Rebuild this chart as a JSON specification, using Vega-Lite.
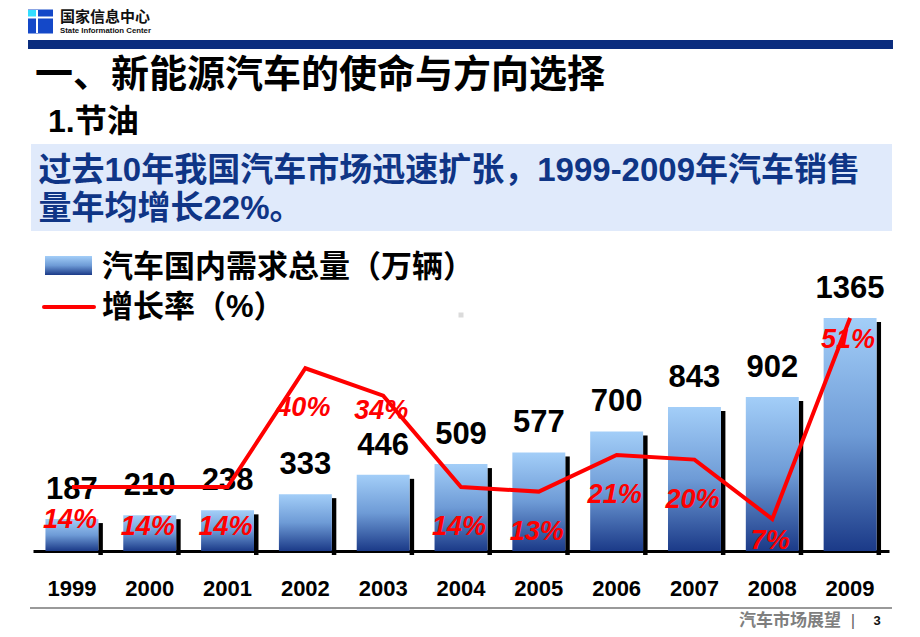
{
  "$schema": "https://vega.github.io/schema/vega-lite/v6.json",
  "width": 856,
  "height": 251,
  "autosize": "none",
  "padding": {"left": 33, "top": 300, "right": 31, "bottom": 86},
  "background": "white",
  "config": {"view": {"stroke": null}, "font": "Liberation Sans, Noto Sans CJK SC"},
  "data": {"values": [
    {"year": "1999", "sales": 187, "rate": 14, "rateText": "14%"},
    {"year": "2000", "sales": 210, "rate": 14, "rateText": "14%"},
    {"year": "2001", "sales": 238, "rate": 14, "rateText": "14%"},
    {"year": "2002", "sales": 333, "rate": 40, "rateText": "40%"},
    {"year": "2003", "sales": 446, "rate": 34, "rateText": "34%"},
    {"year": "2004", "sales": 509, "rate": 14, "rateText": "14%"},
    {"year": "2005", "sales": 577, "rate": 13, "rateText": "13%"},
    {"year": "2006", "sales": 700, "rate": 21, "rateText": "21%"},
    {"year": "2007", "sales": 843, "rate": 20, "rateText": "20%"},
    {"year": "2008", "sales": 902, "rate": 7, "rateText": "7%"},
    {"year": "2009", "sales": 1365, "rate": 51, "rateText": "51%"}
  ]},
  "layer": [
    {
      "layer": [
        {
          "mark": {"type": "bar", "width": 4.5, "xOffset": 28.7, "yOffset": 4, "color": "#000000"},
          "encoding": {
            "x": {"field": "year", "type": "nominal", "scale": {"domain": ["1999", "2000", "2001", "2002", "2003", "2004", "2005", "2006", "2007", "2008", "2009"], "paddingInner": 0.32, "paddingOuter": 0.16}, "axis": {"title": null, "labelFontSize": 22, "labelFontWeight": "bold", "labelColor": "#000000", "labelFont": "Liberation Sans", "ticks": false, "domainColor": "#000000", "domainWidth": 3, "labelPadding": 27, "labelAngle": 0, "grid": false}},
            "y": {"field": "sales", "type": "quantitative", "scale": {"domain": [0, 1470], "nice": false}, "axis": null}
          }
        },
        {
          "mark": {"type": "bar", "fill": {"gradient": "linear", "x1": 0, "y1": 0, "x2": 0, "y2": 1, "stops": [{"offset": 0, "color": "#A3CEF8"}, {"offset": 0.5, "color": "#6E9BD6"}, {"offset": 1, "color": "#1B3A88"}]}},
          "encoding": {
            "x": {"field": "year", "type": "nominal"},
            "y": {"field": "sales", "type": "quantitative"}
          }
        },
        {
          "mark": {"type": "text", "baseline": "alphabetic", "dy": -20, "fontSize": 31, "fontWeight": "bold", "font": "Liberation Sans", "color": "#000000"},
          "encoding": {
            "x": {"field": "year", "type": "nominal"},
            "y": {"field": "sales", "type": "quantitative"},
            "text": {"field": "sales"}
          }
        },
        {
          "data": {"values": [{}]},
          "mark": {"type": "rule", "strokeWidth": 24, "color": "#1448C8", "xOffset": -43.9, "x2Offset": -18.9, "strokeCap": "butt"},
          "encoding": {"x": {"datum": "1999", "type": "nominal"}, "x2": {"datum": "1999"}, "y": {"datum": 3101, "type": "quantitative"}}
        },
        {
          "data": {"values": [{}]},
          "mark": {"type": "rule", "strokeWidth": 7, "color": "#33DDFF", "xOffset": -43.9, "x2Offset": -35.9, "strokeCap": "butt"},
          "encoding": {"x": {"datum": "1999", "type": "nominal"}, "x2": {"datum": "1999"}, "y": {"datum": 3147.9, "type": "quantitative"}}
        },
        {
          "data": {"values": [{}]},
          "mark": {"type": "rule", "strokeWidth": 2, "color": "white", "xOffset": -34.9, "strokeCap": "butt"},
          "encoding": {"x": {"datum": "1999", "type": "nominal"}, "y": {"datum": 3168.4, "type": "quantitative"}, "y2": {"datum": 3033.7}}
        },
        {
          "data": {"values": [{}]},
          "mark": {"type": "rule", "strokeWidth": 2, "color": "white", "xOffset": -43.9, "x2Offset": -18.9, "strokeCap": "butt"},
          "encoding": {"x": {"datum": "1999", "type": "nominal"}, "x2": {"datum": "1999"}, "y": {"datum": 3124.5, "type": "quantitative"}}
        },
        {
          "data": {"values": [{}]},
          "mark": {"type": "text", "text": "国家信息中心", "align": "left", "baseline": "middle", "dx": -11.9, "fontSize": 15, "fontWeight": "bold", "font": "Noto Sans CJK SC", "color": "#111111"},
          "encoding": {"x": {"datum": "1999", "type": "nominal"}, "y": {"datum": 3127.4, "type": "quantitative"}}
        },
        {
          "data": {"values": [{}]},
          "mark": {"type": "text", "text": "State Information Center", "align": "left", "baseline": "middle", "dx": -11.9, "fontSize": 7.8, "fontWeight": "bold", "font": "Liberation Sans", "color": "#111111"},
          "encoding": {"x": {"datum": "1999", "type": "nominal"}, "y": {"datum": 3045.4, "type": "quantitative"}}
        },
        {
          "data": {"values": [{}]},
          "mark": {"type": "rule", "strokeWidth": 9, "color": "#0A2C7E", "xOffset": -43.9, "x2Offset": 42.9, "strokeCap": "butt"},
          "encoding": {"x": {"datum": "1999", "type": "nominal"}, "x2": {"datum": "2009"}, "y": {"datum": 2966.4, "type": "quantitative"}}
        },
        {
          "data": {"values": [{}]},
          "mark": {"type": "text", "text": "一、新能源汽车的使命与方向选择", "align": "left", "baseline": "middle", "dx": -36.9, "fontSize": 38, "fontWeight": "bold", "color": "#000000"},
          "encoding": {"x": {"datum": "1999", "type": "nominal"}, "y": {"datum": 2781.9, "type": "quantitative"}}
        },
        {
          "data": {"values": [{}]},
          "mark": {"type": "text", "text": "1.节油", "align": "left", "baseline": "middle", "dx": -23.9, "fontSize": 32, "fontWeight": "bold", "color": "#000000"},
          "encoding": {"x": {"datum": "1999", "type": "nominal"}, "y": {"datum": 2512.5, "type": "quantitative"}}
        },
        {
          "data": {"values": [{}]},
          "mark": {"type": "rule", "strokeWidth": 87, "color": "#E0EAFB", "xOffset": -40.9, "x2Offset": 41.9, "strokeCap": "butt"},
          "encoding": {"x": {"datum": "1999", "type": "nominal"}, "x2": {"datum": "2009"}, "y": {"datum": 2128.9, "type": "quantitative"}}
        },
        {
          "data": {"values": [{}]},
          "mark": {"type": "text", "text": "过去10年我国汽车市场迅速扩张，1999-2009年汽车销售", "align": "left", "baseline": "middle", "dx": -33.4, "fontSize": 33, "fontWeight": "bold", "color": "#0F3586"},
          "encoding": {"x": {"datum": "1999", "type": "nominal"}, "y": {"datum": 2225.5, "type": "quantitative"}}
        },
        {
          "data": {"values": [{}]},
          "mark": {"type": "text", "text": "量年均增长22%。", "align": "left", "baseline": "middle", "dx": -33.4, "fontSize": 33, "fontWeight": "bold", "color": "#0F3586"},
          "encoding": {"x": {"datum": "1999", "type": "nominal"}, "y": {"datum": 2002.9, "type": "quantitative"}}
        },
        {
          "data": {"values": [{}]},
          "mark": {"type": "bar", "width": 47, "xOffset": -3.4, "fill": {"gradient": "linear", "x1": 0, "y1": 0, "x2": 0, "y2": 1, "stops": [{"offset": 0, "color": "#A3CEF8"}, {"offset": 0.5, "color": "#6E9BD6"}, {"offset": 1, "color": "#1B3A88"}]}},
          "encoding": {"x": {"datum": "1999", "type": "nominal"}, "y": {"datum": 1727.7, "type": "quantitative"}, "y2": {"datum": 1616.4}}
        },
        {
          "data": {"values": [{}]},
          "mark": {"type": "rule", "strokeWidth": 4, "color": "#FF0000", "xOffset": -27.9, "x2Offset": 22.1, "strokeCap": "round"},
          "encoding": {"x": {"datum": "1999", "type": "nominal"}, "x2": {"datum": "1999"}, "y": {"datum": 1429.0, "type": "quantitative"}}
        },
        {
          "data": {"values": [{}]},
          "mark": {"type": "text", "text": "汽车国内需求总量（万辆）", "align": "left", "baseline": "middle", "dx": 30.1, "fontSize": 31, "fontWeight": "bold", "color": "#000000"},
          "encoding": {"x": {"datum": "1999", "type": "nominal"}, "y": {"datum": 1657.4, "type": "quantitative"}}
        },
        {
          "data": {"values": [{}]},
          "mark": {"type": "text", "text": "增长率（%）", "align": "left", "baseline": "middle", "dx": 30.1, "fontSize": 31, "fontWeight": "bold", "color": "#000000"},
          "encoding": {"x": {"datum": "1999", "type": "nominal"}, "y": {"datum": 1423.1, "type": "quantitative"}}
        },
        {
          "data": {"values": [{}]},
          "mark": {"type": "point", "shape": "square", "filled": true, "size": 25, "color": "#CCCCCC"},
          "encoding": {"x": {"datum": "2004", "type": "nominal"}, "y": {"datum": 1382.2, "type": "quantitative"}}
        },
        {
          "data": {"values": [{}]},
          "mark": {"type": "rule", "strokeWidth": 2, "color": "#999999", "xOffset": -41.9, "x2Offset": 41.9, "strokeCap": "butt"},
          "encoding": {"x": {"datum": "1999", "type": "nominal"}, "x2": {"datum": "2009"}, "y": {"datum": -333.8, "type": "quantitative"}}
        },
        {
          "data": {"values": [{}]},
          "mark": {"type": "text", "text": "汽车市场展望", "align": "center", "baseline": "middle", "dx": 17.7, "fontSize": 17, "fontWeight": "bold", "color": "#7F7F7F"},
          "encoding": {"x": {"datum": "2008", "type": "nominal"}, "y": {"datum": -410, "type": "quantitative"}}
        },
        {
          "data": {"values": [{}]},
          "mark": {"type": "text", "text": "|", "align": "center", "baseline": "middle", "dx": 2.9, "fontSize": 17, "color": "#666666"},
          "encoding": {"x": {"datum": "2009", "type": "nominal"}, "y": {"datum": -410, "type": "quantitative"}}
        },
        {
          "data": {"values": [{}]},
          "mark": {"type": "text", "text": "3", "align": "center", "baseline": "middle", "dx": 26.9, "fontSize": 13, "fontWeight": "bold", "color": "#111111"},
          "encoding": {"x": {"datum": "2009", "type": "nominal"}, "y": {"datum": -410, "type": "quantitative"}}
        }
      ]
    },
    {
      "layer": [
        {
          "mark": {"type": "line", "color": "#FF0000", "strokeWidth": 4},
          "encoding": {
            "x": {"field": "year", "type": "nominal"},
            "y": {"field": "rate", "type": "quantitative", "scale": {"domain": [0, 54.94], "nice": false}, "axis": null}
          }
        },
        {
          "transform": [{"filter": {"not": {"field": "year", "oneOf": ["1999", "2003", "2008", "2009"]}}}],
          "mark": {"type": "text", "baseline": "middle", "dy": 40, "dx": -2, "fontSize": 27, "fontWeight": "bold", "fontStyle": "italic", "font": "Liberation Sans", "color": "#FF0000"},
          "encoding": {
            "x": {"field": "year", "type": "nominal"},
            "y": {"field": "rate", "type": "quantitative"},
            "text": {"field": "rateText"}
          }
        },
        {
          "transform": [{"filter": {"field": "year", "oneOf": ["1999"]}}],
          "mark": {"type": "text", "baseline": "middle", "dy": 33, "dx": -2, "fontSize": 27, "fontWeight": "bold", "fontStyle": "italic", "font": "Liberation Sans", "color": "#FF0000"},
          "encoding": {
            "x": {"field": "year", "type": "nominal"},
            "y": {"field": "rate", "type": "quantitative"},
            "text": {"field": "rateText"}
          }
        },
        {
          "transform": [{"filter": {"field": "year", "oneOf": ["2003"]}}],
          "mark": {"type": "text", "baseline": "middle", "dy": 15, "dx": -2, "fontSize": 27, "fontWeight": "bold", "fontStyle": "italic", "font": "Liberation Sans", "color": "#FF0000"},
          "encoding": {
            "x": {"field": "year", "type": "nominal"},
            "y": {"field": "rate", "type": "quantitative"},
            "text": {"field": "rateText"}
          }
        },
        {
          "transform": [{"filter": {"field": "year", "oneOf": ["2008", "2009"]}}],
          "mark": {"type": "text", "baseline": "middle", "dy": 22, "dx": -2, "fontSize": 27, "fontWeight": "bold", "fontStyle": "italic", "font": "Liberation Sans", "color": "#FF0000"},
          "encoding": {
            "x": {"field": "year", "type": "nominal"},
            "y": {"field": "rate", "type": "quantitative"},
            "text": {"field": "rateText"}
          }
        }
      ]
    }
  ],
  "resolve": {"scale": {"y": "independent"}}
}
